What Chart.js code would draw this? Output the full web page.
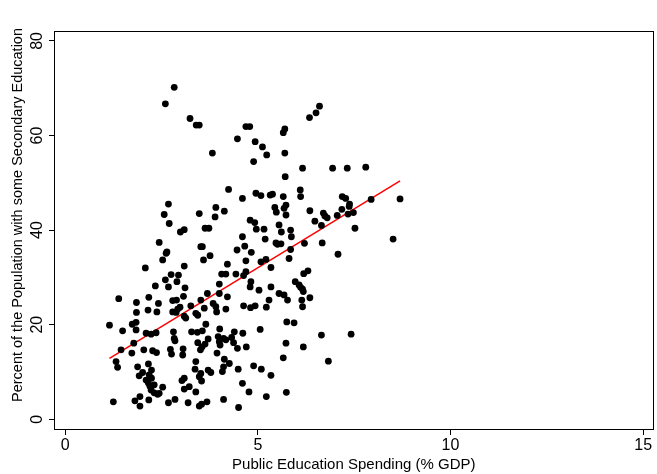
<!DOCTYPE html>
<html>
<head>
<meta charset="utf-8">
<script src="https://cdn.jsdelivr.net/npm/chart.js@4/dist/chart.umd.min.js"></script>
<style>
  html, body { margin: 0; padding: 0; background: #fff; }
  #wrap { width: 657px; height: 474px; }
</style>
</head>
<body>
<div id="wrap"><canvas id="myChart"></canvas></div>
<script>
// public education spending (% GDP), one value per country
var spending = [
  2.83, 2.60, 3.24, 3.40, 3.48, 4.69, 4.79, 5.70, 5.66, 4.47, 4.93, 5.12, 5.23, 3.82, 5.70, 4.89,
  6.16, 5.71, 4.24, 4.60, 4.95, 5.08, 5.32, 5.38, 5.66, 6.11, 6.60, 6.51, 6.34, 6.94, 7.32, 7.80,
  7.19, 7.28, 7.94, 8.69, 2.68, 2.57, 2.70, 3.48, 2.99, 3.09, 2.44, 2.64, 2.62, 2.53, 3.52, 3.59,
  2.08, 3.09, 2.75, 2.94, 2.60, 2.90, 2.34, 2.68, 3.11, 1.39, 1.85, 2.17, 2.42, 2.79, 2.89, 3.07,
  3.52, 2.98, 2.15, 3.26, 3.63, 3.91, 3.89, 4.13, 4.80, 4.92, 4.96, 5.16, 5.44, 5.48, 5.68, 5.73,
  5.73, 5.55, 5.61, 5.85, 5.87, 6.10, 3.73, 4.60, 5.19, 3.56, 3.76, 4.46, 4.66, 4.83, 4.69, 4.21,
  4.06, 4.17, 4.00, 4.43, 4.69, 4.63, 5.08, 5.21, 5.47, 5.51, 5.60, 5.85, 5.81, 5.34, 4.82, 4.80,
  5.03, 5.34, 5.97, 6.07, 6.11, 6.16, 6.18, 5.55, 5.68, 5.77, 5.29, 3.69, 4.00, 4.21, 3.84, 3.91,
  4.63, 4.81, 4.93, 5.22, 6.14, 6.16, 6.21, 6.19, 7.38, 7.37, 6.35, 6.70, 6.74, 6.80, 7.06, 7.18,
  7.34, 7.48, 6.48, 6.65, 7.52, 6.67, 7.08, 8.51, 6.30, 6.35, 1.85, 2.38, 2.79, 2.88, 2.92, 3.09,
  3.13, 3.39, 3.44, 1.15, 1.49, 1.74, 1.84, 1.84, 2.10, 2.23, 2.36, 2.81, 2.83, 2.85, 3.28, 3.43,
  3.56, 1.78, 1.45, 1.73, 2.04, 2.27, 2.37, 2.73, 2.76, 3.06, 3.05, 3.44, 3.55, 3.51, 1.32, 1.36,
  1.88, 2.24, 2.16, 2.01, 1.92, 2.10, 2.16, 2.20, 2.23, 2.31, 2.40, 2.18, 2.24, 2.31, 2.53, 2.44,
  3.09, 3.03, 3.22, 3.09, 3.39, 3.37, 3.48, 3.54, 3.39, 3.54, 1.25, 1.81, 1.94, 1.94, 2.17, 2.68,
  2.85, 3.19, 3.61, 3.93, 4.17, 3.65, 5.75, 5.94, 4.01, 4.39, 4.61, 5.06, 3.63, 3.71, 3.97, 4.00,
  4.02, 4.11, 4.17, 4.32, 4.37, 4.47, 4.70, 5.73, 6.18, 3.94, 4.13, 3.71, 3.78, 3.52, 4.11, 4.08,
  4.26, 4.49, 4.89, 5.09, 5.34, 5.66, 4.60, 4.77, 5.22, 5.74, 4.11, 3.68, 3.48, 4.50, 6.65, 7.42,
  6.83
];
// percent of the population with some secondary education
var secondary = [
  70.2, 66.7, 63.6, 62.2, 62.2, 61.9, 61.9, 61.4, 60.6, 59.3, 58.7, 57.6, 55.9, 56.3, 56.3, 54.5,
  53.1, 51.3, 48.6, 46.7, 47.8, 47.3, 47.4, 47.6, 47.1, 47.1, 66.2, 64.8, 63.8, 53.1, 53.1, 53.3,
  47.1, 46.7, 46.5, 46.6, 45.5, 43.3, 41.4, 43.5, 39.6, 40.1, 37.4, 35.4, 35.1, 33.7, 36.5, 33.7,
  32.0, 32.4, 30.6, 30.5, 29.5, 29.1, 28.2, 28.0, 27.8, 25.5, 24.7, 25.8, 24.5, 25.1, 25.2, 26.0,
  25.2, 23.7, 23.1, 24.0, 40.4, 44.8, 42.8, 44.0, 42.1, 41.6, 40.2, 40.2, 44.8, 43.8, 44.6, 45.3,
  43.2, 41.1, 39.6, 40.0, 38.6, 48.5, 40.4, 38.6, 38.1, 36.5, 34.6, 35.8, 36.6, 35.3, 33.5, 32.8,
  30.7, 30.7, 28.6, 30.7, 31.2, 30.4, 33.3, 33.8, 37.3, 37.0, 37.1, 35.9, 34.0, 32.1, 29.1, 28.0,
  27.3, 28.0, 29.1, 28.4, 27.9, 27.5, 27.0, 26.6, 26.3, 25.2, 25.2, 26.6, 26.6, 25.9, 24.5, 23.8,
  24.0, 23.6, 24.0, 23.7, 25.2, 23.8, 37.2, 30.8, 45.5, 45.0, 44.1, 43.6, 43.0, 42.6, 43.1, 44.4,
  43.4, 43.7, 41.9, 41.0, 40.4, 37.3, 34.9, 38.1, 31.4, 25.7, 22.6, 22.7, 22.7, 22.6, 23.3, 21.8,
  21.4, 22.4, 22.0, 19.9, 18.7, 20.1, 20.5, 18.9, 18.2, 18.0, 18.3, 18.5, 17.1, 16.6, 18.5, 18.4,
  18.7, 16.1, 14.7, 14.0, 14.7, 14.5, 14.1, 14.8, 13.8, 14.9, 13.6, 16.2, 15.3, 14.7, 12.2, 11.0,
  11.1, 10.4, 11.7, 9.9, 9.2, 8.3, 7.7, 7.0, 6.2, 5.6, 5.3, 9.4, 8.7, 7.3, 6.8, 5.5,
  8.7, 8.2, 6.9, 6.4, 12.2, 10.6, 9.0, 8.1, 5.8, 3.2, 3.7, 3.9, 4.8, 2.8, 4.1, 3.5,
  4.2, 3.5, 23.5, 22.7, 23.3, 20.1, 20.6, 20.4, 19.1, 18.5, 18.2, 19.0, 15.9, 17.0, 17.5, 16.4,
  15.7, 17.1, 16.8, 17.3, 16.2, 15.0, 15.3, 16.1, 15.3, 14.0, 12.7, 10.4, 9.9, 9.7, 11.1, 10.1,
  11.8, 10.6, 11.3, 10.6, 9.3, 13.0, 7.6, 5.8, 4.8, 5.7, 4.2, 3.7, 2.8, 2.5, 17.8, 18.0,
  12.3
];
// fitted line, read at its two ends
var fitX = [1.15, 8.69];
var fitY = [12.9, 50.4];

var xTicks = [0, 5, 10, 15];
var yTicks = [0, 20, 40, 60, 80];
var xTitle = "Public Education Spending (% GDP)";
var yTitle = "Percent of the Population with some Secondary Education";

var points = spending.map(function(v, i) { return {x: v, y: secondary[i]}; });
var fit = fitX.map(function(v, i) { return {x: v, y: fitY[i]}; });

var frame = {
  id: "frame",
  afterDraw: function(chart) {
    var ctx = chart.ctx, a = chart.chartArea;
    ctx.save();
    ctx.strokeStyle = "#000";
    ctx.lineWidth = 1;
    ctx.strokeRect(Math.round(a.left) + 0.5, Math.round(a.top) + 0.5,
      Math.round(a.right - a.left) - 1, Math.round(a.bottom - a.top) - 1);
    // y title, centred on the whole graph height like Stata does
    ctx.translate(17.5, a.bottom / 2);
    ctx.rotate(-Math.PI / 2);
    ctx.fillStyle = "#000";
    ctx.font = "14.5px 'Liberation Sans', Arial, sans-serif";
    ctx.textAlign = "center";
    ctx.textBaseline = "middle";
    ctx.fillText(yTitle, 0, 0);
    ctx.restore();
  }
};

Chart.defaults.font.family = "'Liberation Sans', Arial, sans-serif";
Chart.defaults.color = "#000";

var chart = new Chart("myChart", {
  type: "scatter",
  data: {
    datasets: [{
      data: points,
      pointRadius: 3.4,
      pointHoverRadius: 3.4,
      backgroundColor: "#000",
      borderWidth: 0
    }, {
      type: "line",
      data: fit,
      borderColor: "#ff0000",
      borderWidth: 1.5,
      pointRadius: 0,
      fill: false
    }]
  },
  options: {
    responsive: true,
    maintainAspectRatio: false,
    animation: false,
    layout: { padding: { top: 31, right: 2, left: 0, bottom: 0 } },
    plugins: { legend: { display: false }, tooltip: { enabled: false } },
    scales: {
      x: {
        type: "linear",
        min: -0.29,
        max: 15.27,
        afterBuildTicks: function(s) { s.ticks = xTicks.map(function(v) { return {value: v}; }); },
        afterFit: function(s) { s.height = 44; },
        grid: { drawOnChartArea: false, tickLength: 5, color: "#000" },
        border: { display: false },
        ticks: { font: { size: 16 }, padding: 1, maxRotation: 0 },
        title: { display: true, text: xTitle, font: { size: 15 }, padding: { top: 0, bottom: 0 } }
      },
      y: {
        type: "linear",
        min: -2.26,
        max: 82.1,
        afterBuildTicks: function(s) { s.ticks = yTicks.map(function(v) { return {value: v}; }); },
        afterFit: function(s) { s.width = 54; },
        grid: { drawOnChartArea: false, tickLength: 5, color: "#000" },
        border: { display: false },
        ticks: { font: { size: 16 }, padding: 3, minRotation: 90, maxRotation: 90, crossAlign: "center" }
      }
    }
  },
  plugins: [frame]
});
</script>
</body>
</html>
